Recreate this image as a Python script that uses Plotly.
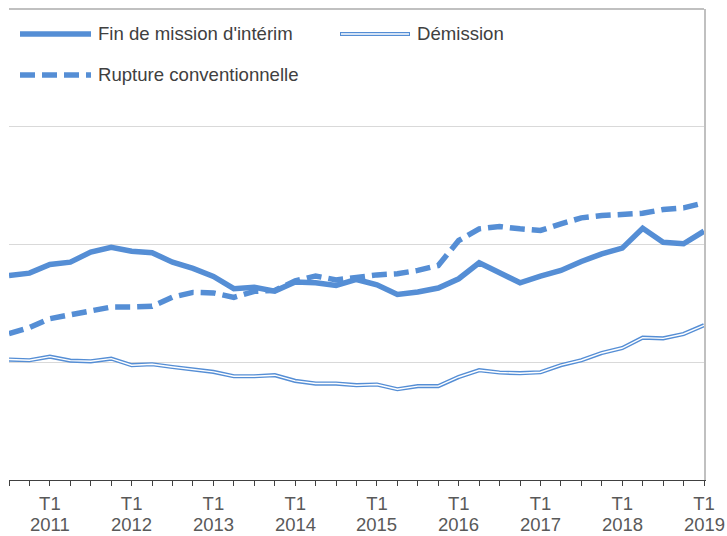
import plotly.graph_objects as go

# Quarters from 2010 T3 to 2019 T1
quarters = ["2010 T3", "2010 T4"] + [f"{y} T{q}" for y in range(2011, 2019) for q in range(1, 5)] + ["2019 T1"]
tick_quarter = "T1"
tick_years = ["2011", "2012", "2013", "2014", "2015", "2016", "2017", "2018", "2019"]

fin_mission = [17.37, 17.57, 18.31, 18.50, 19.35, 19.77, 19.43, 19.30, 18.50, 17.97,
               17.29, 16.25, 16.36, 16.04, 16.81, 16.75, 16.53, 17.03, 16.58, 15.76,
               15.96, 16.30, 17.09, 18.45, 17.60, 16.75, 17.31, 17.80, 18.56, 19.21,
               19.69, 21.38, 20.19, 20.06, 21.13]
demission = [10.23, 10.17, 10.48, 10.14, 10.08, 10.31, 9.75, 9.83, 9.60, 9.41,
             9.18, 8.81, 8.81, 8.90, 8.42, 8.19, 8.19, 8.05, 8.11, 7.71,
             7.97, 7.97, 8.75, 9.32, 9.13, 9.07, 9.15, 9.75, 10.17, 10.79,
             11.21, 12.09, 12.03, 12.40, 13.14]
rupture = [12.43, 12.94, 13.70, 14.04, 14.41, 14.69, 14.69, 14.75, 15.53, 15.93,
           15.89, 15.51, 16.02, 16.10, 16.91, 17.33, 16.99, 17.23, 17.42, 17.52,
           17.80, 18.22, 20.34, 21.33, 21.53, 21.33, 21.19, 21.75, 22.26, 22.46,
           22.54, 22.65, 22.97, 23.11, 23.53]

names = ["Fin de mission d'intérim", "Démission", "Rupture conventionnelle"]

BLUE = "#558ED5"
FONT = "Liberation Sans, Arial, sans-serif"
x = list(range(len(quarters)))
tick_idx = [i for i, q in enumerate(quarters) if q.endswith("T1")]
ticktext = [""] * len(quarters)
for i in tick_idx:
    ticktext[i] = tick_quarter

fig = go.Figure()
fig.add_trace(go.Scatter(x=x, y=fin_mission, mode="lines", name=names[0],
                         line=dict(color=BLUE, width=5.5), showlegend=False,
                         customdata=quarters, hovertemplate="%{customdata}: %{y}<extra></extra>"))
fig.add_trace(go.Scatter(x=x, y=demission, mode="lines", name=names[1],
                         line=dict(color=BLUE, width=4.2), showlegend=False,
                         customdata=quarters, hovertemplate="%{customdata}: %{y}<extra></extra>"))
fig.add_trace(go.Scatter(x=x, y=demission, mode="lines", name=names[1] + " (inner)",
                         line=dict(color="white", width=1.4), showlegend=False, hoverinfo="skip"))
fig.add_trace(go.Scatter(x=x, y=rupture, mode="lines", name=names[2],
                         line=dict(color=BLUE, width=5.5, dash="15px,7px"), showlegend=False,
                         customdata=quarters, hovertemplate="%{customdata}: %{y}<extra></extra>"))

W, H = 727, 536
L, R, T, B = 9, 704, 9, 480   # plot area in window pixels
def px(xp):
    return (xp - L) / (R - L)
def py(yp):
    return (B - yp) / (B - T)

shapes = [
    # top frame line
    dict(type="line", xref="paper", yref="paper", x0=0, x1=1, y0=1, y1=1,
         line=dict(color="#C0C0C0", width=2)),
]
annotations = []
legend_items = [
    (names[0], 20, 91, 34, "solid"),
    (names[1], 340, 410, 34, "double"),
    (names[2], 20, 91, 75, "dash"),
]
for name, x0, x1, yy, style in legend_items:
    if style == "solid":
        shapes.append(dict(type="line", xref="paper", yref="paper", x0=px(x0), x1=px(x1),
                           y0=py(yy), y1=py(yy), line=dict(color=BLUE, width=5.5)))
    elif style == "double":
        shapes.append(dict(type="line", xref="paper", yref="paper", x0=px(x0), x1=px(x1),
                           y0=py(yy), y1=py(yy), line=dict(color=BLUE, width=4.2)))
        shapes.append(dict(type="line", xref="paper", yref="paper", x0=px(x0 + 1), x1=px(x1 - 1),
                           y0=py(yy), y1=py(yy), line=dict(color="white", width=1.4)))
    else:
        shapes.append(dict(type="line", xref="paper", yref="paper", x0=px(x0), x1=px(x1),
                           y0=py(yy), y1=py(yy), line=dict(color=BLUE, width=5.5, dash="15px,7px")))
    annotations.append(dict(text=name, xref="paper", yref="paper", x=px(x1 + 5), y=py(yy),
                            xanchor="left", yanchor="middle", showarrow=False,
                            font=dict(family=FONT, size=18.6, color="#404040")))

# year row under the "T1" tick labels
for i, yr in zip(tick_idx, tick_years):
    annotations.append(dict(text=yr, xref="x", yref="paper", x=i, y=py(524),
                            xanchor="center", yanchor="middle", showarrow=False,
                            font=dict(family=FONT, size=18.5, color="#595959")))

fig.update_layout(
    width=W, height=H, autosize=False,
    margin=dict(l=L, r=W - R, t=T, b=H - B, pad=0),
    paper_bgcolor="white", plot_bgcolor="white",
    font=dict(family=FONT, size=18.5, color="#595959"),
    showlegend=False,
    shapes=shapes, annotations=annotations,
    xaxis=dict(range=[0, len(quarters) - 1], tickmode="array", tickvals=x, ticktext=ticktext,
               ticks="outside", ticklen=5, tickcolor="#404040", tickwidth=1,
               ticklabelstandoff=2,
               showline=True, linecolor="#404040", linewidth=1,
               showgrid=False, zeroline=False, tickfont=dict(family=FONT, size=18.5, color="#595959")),
    yaxis=dict(range=[0, 40], tickmode="array", tickvals=[0, 10, 20, 30, 40],
               showticklabels=False, ticks="",
               showgrid=True, gridcolor="#D9D9D9", gridwidth=1, zeroline=False,
               side="right", showline=True, linecolor="#C0C0C0", linewidth=2),
)

fig.write_html(
    "out.html",
    config={"displayModeBar": False, "staticPlot": True},
    post_script="document.body.style.margin='0';document.body.style.overflow='hidden';",
)
